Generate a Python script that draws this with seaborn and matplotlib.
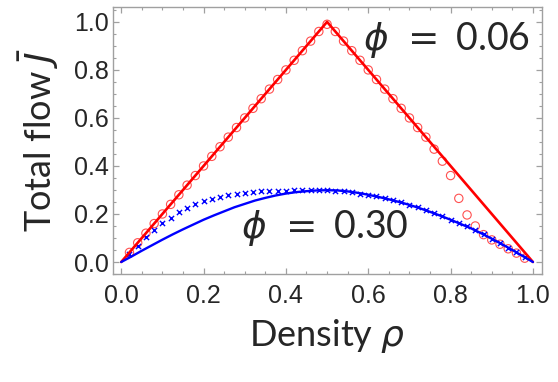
import matplotlib
matplotlib.use("Agg")
import matplotlib.pyplot as plt
import seaborn as sns
from matplotlib.ticker import MultipleLocator

# red: phi = 0.06
rho_red_line = [0.0, 0.5, 1.0]
J_red_line = [0.0, 1.0, 0.0]

rho_red_pts = [0.02, 0.04, 0.06, 0.08, 0.10, 0.12, 0.14, 0.16, 0.18, 0.20,
               0.22, 0.24, 0.26, 0.28, 0.30, 0.32, 0.34, 0.36, 0.38, 0.40,
               0.42, 0.44, 0.46, 0.48, 0.50, 0.52, 0.54, 0.56, 0.58, 0.60,
               0.62, 0.64, 0.66, 0.68, 0.70, 0.72, 0.74, 0.76, 0.78, 0.80,
               0.82, 0.84, 0.86, 0.88, 0.90, 0.92, 0.94, 0.96, 0.98]
J_red_pts = [0.04, 0.08, 0.12, 0.16, 0.20, 0.24, 0.28, 0.32, 0.36, 0.40,
             0.44, 0.48, 0.52, 0.56, 0.60, 0.64, 0.68, 0.72, 0.76, 0.80,
             0.84, 0.88, 0.92, 0.96, 0.99, 0.96, 0.92, 0.88, 0.84, 0.80,
             0.76, 0.72, 0.68, 0.64, 0.60, 0.56, 0.52, 0.47, 0.42, 0.36,
             0.265, 0.196, 0.15, 0.114, 0.092, 0.074, 0.055, 0.037, 0.016]

# blue: phi = 0.30
rho_blue_line = [0.000, 0.025, 0.050, 0.075, 0.100, 0.125, 0.150, 0.175, 0.200, 0.225,
                 0.250, 0.275, 0.300, 0.325, 0.350, 0.375, 0.400, 0.425, 0.450, 0.475,
                 0.500, 0.525, 0.550, 0.575, 0.600, 0.625, 0.650, 0.675, 0.700, 0.725,
                 0.750, 0.775, 0.800, 0.825, 0.850, 0.875, 0.900, 0.925, 0.950, 0.975, 1.000]
J_blue_line = [0.000, 0.023, 0.047, 0.070, 0.093, 0.115, 0.136, 0.156, 0.176, 0.194,
               0.211, 0.228, 0.242, 0.256, 0.267, 0.277, 0.285, 0.291, 0.295, 0.298,
               0.299, 0.298, 0.294, 0.288, 0.280, 0.271, 0.261, 0.250, 0.238, 0.224,
               0.209, 0.193, 0.176, 0.158, 0.140, 0.119, 0.097, 0.074, 0.050, 0.025, 0.000]

rho_blue_pts = [0.02, 0.04, 0.06, 0.08, 0.10, 0.12, 0.14, 0.16, 0.18, 0.20,
                0.22, 0.24, 0.26, 0.28, 0.30, 0.32, 0.34, 0.36, 0.38, 0.40,
                0.42, 0.44, 0.46, 0.48, 0.50, 0.52, 0.54, 0.56, 0.58, 0.60,
                0.62, 0.64, 0.66, 0.68, 0.70, 0.72, 0.74, 0.76, 0.78, 0.80,
                0.82, 0.84, 0.86, 0.88, 0.90, 0.92, 0.94, 0.96, 0.98]
J_blue_pts = [0.033, 0.068, 0.103, 0.133, 0.161, 0.185, 0.208, 0.225, 0.242, 0.254,
              0.264, 0.272, 0.279, 0.285, 0.289, 0.292, 0.294, 0.295, 0.296, 0.297,
              0.298, 0.299, 0.299, 0.300, 0.300, 0.297, 0.295, 0.291, 0.285, 0.279,
              0.273, 0.266, 0.258, 0.248, 0.238, 0.227, 0.216, 0.203, 0.190, 0.176,
              0.163, 0.148, 0.133, 0.115, 0.096, 0.078, 0.060, 0.040, 0.020]

sns.set_style("ticks")
plt.rcParams["font.family"] = ["Liberation Sans", "DejaVu Sans"]

fig = plt.figure(figsize=(5.58, 3.82), dpi=100)
ax = fig.add_axes([0.2025, 0.2827, 0.7688, 0.699])

sns.lineplot(x=rho_red_line, y=J_red_line, color="red", linewidth=1.9, ax=ax)
sns.scatterplot(x=rho_red_pts, y=J_red_pts, marker="o", s=36, facecolors="none",
                edgecolor="#ff5050", linewidth=0.8, ax=ax)
sns.lineplot(x=rho_blue_line, y=J_blue_line, color="blue", linewidth=1.7, ax=ax)
sns.scatterplot(x=rho_blue_pts, y=J_blue_pts, marker="x", s=14, color="blue",
                linewidth=1.0, ax=ax)

ax.set_xlim(-0.02, 1.022)
ax.set_ylim(-0.05, 1.062)
ax.xaxis.set_major_locator(MultipleLocator(0.2))
ax.xaxis.set_minor_locator(MultipleLocator(0.05))
ax.yaxis.set_major_locator(MultipleLocator(0.2))
ax.yaxis.set_minor_locator(MultipleLocator(0.05))
ax.xaxis.set_major_formatter(lambda v, p: f"{v:.1f}")
ax.yaxis.set_major_formatter(lambda v, p: f"{v:.1f}")

for s in ax.spines.values():
    s.set_color("#a0a0a0")
    s.set_linewidth(1.0)
    s.set_visible(True)
ax.tick_params(which="both", direction="in", top=True, right=True, color="#a0a0a0")
ax.tick_params(which="major", length=4, width=0.9, labelsize=18)
ax.tick_params(which="minor", length=2.5, width=0.8)
ax.tick_params(axis="x", which="major", pad=7)
ax.tick_params(axis="y", which="major", pad=3)

label_font = {"family": ["Lato", "DejaVu Sans"], "size": 26}
ax.set_xlabel(r"Density $\rho$", fontdict=label_font, labelpad=7)
ax.set_ylabel(r"Total flow $\bar{J}$", fontdict=label_font, labelpad=9)

ax.text(0.79, 0.925, r"$\phi\ =$ 0.06", fontsize=27, family=["Lato", "DejaVu Sans"],
        ha="center", va="center")
ax.text(0.495, 0.142, r"$\phi\ =$ 0.30", fontsize=27, family=["Lato", "DejaVu Sans"],
        ha="center", va="center")

fig.savefig("out.png", dpi=100)
